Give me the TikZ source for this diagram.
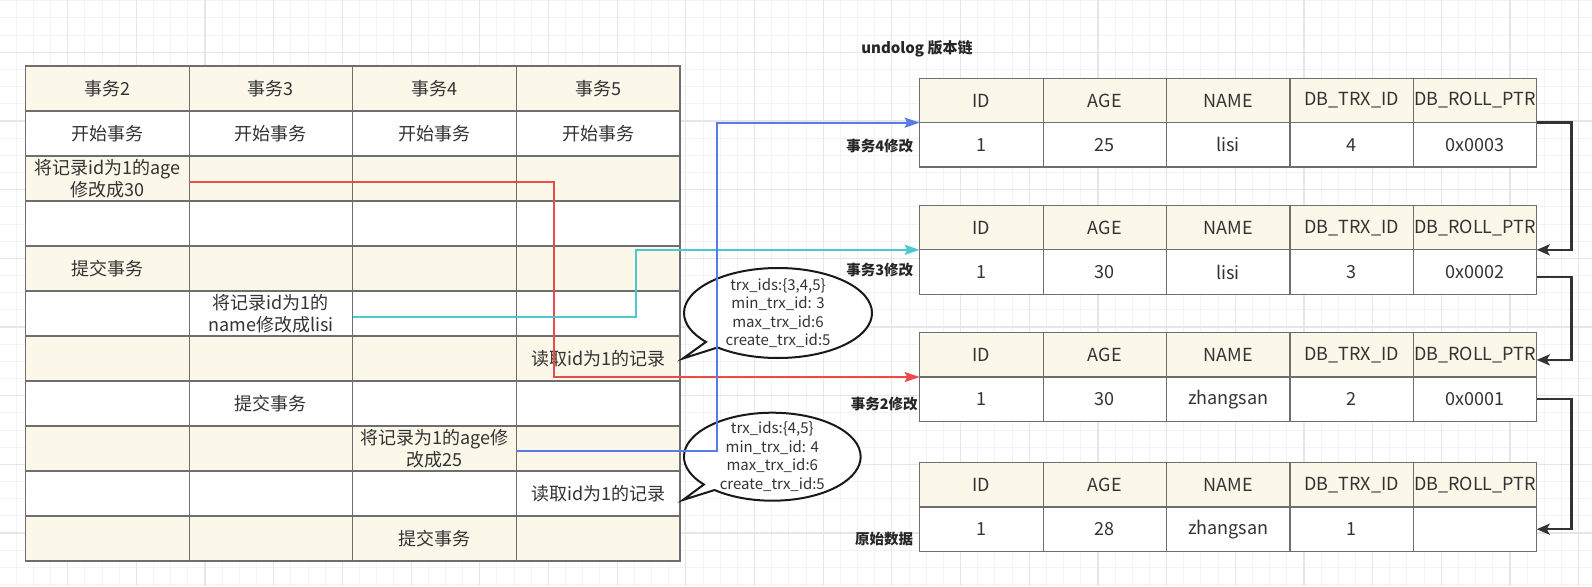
\documentclass[tikz,border=0pt]{standalone}
\usepackage{fontspec}
\setmainfont{Noto Sans CJK SC}
\usepackage{tikz}
\usetikzlibrary{arrows.meta}
\usetikzlibrary{positioning}
\usetikzlibrary{shapes.callouts}
\definecolor{cream}{RGB}{251,248,234}
\definecolor{bordergray}{RGB}{110,110,110}
\definecolor{txt}{RGB}{51,51,51}
\definecolor{redline}{RGB}{234,76,76}
\definecolor{cyanline}{RGB}{76,201,206}
\definecolor{blueline}{RGB}{88,122,234}
\definecolor{darkline}{RGB}{51,51,51}
\definecolor{gridminor}{RGB}{243,243,243}
\definecolor{gridmajor}{RGB}{230,230,230}
\begin{document}
\begin{tikzpicture}[x=1pt,y=-1pt,node distance=163.6pt,
  every node/.style={inner sep=0pt,outer sep=0pt,text=txt},
  cell/.style={draw=bordergray,line width=1.2pt,fill=white,minimum width=163.6pt,minimum height=45pt,align=center,font=\fontsize{18}{21.7}\selectfont},
  hl/.style={cell,fill=cream},
  rcell/.style={cell,minimum width=123.4pt,minimum height=44.3pt},
  rhl/.style={rcell,fill=cream},
  lbl/.style={font=\bfseries\fontsize{14.5}{17}\selectfont,text=black!85,inner xsep=6.5pt},
  bubble/.style={ellipse callout,draw=black!90,line width=2pt,fill=white,inner ysep=-12pt,callout pointer arc=10,align=center,font=\fontsize{15}{18.5}\selectfont},
  link/.style={line width=2pt,-{Stealth[length=15pt,width=10pt,inset=2.5pt]}},
  back/.style={line width=2.5pt,draw=darkline,-{Stealth[length=13pt,width=11pt,inset=3pt]}}]
\useasboundingbox (0,0) rectangle (1592,586);
% background grid
\fill[white] (0,0) rectangle (1592,586);
\foreach \k in {0,...,92} \draw[gridminor,line width=1pt] ({16.2+17.17*\k},0) -- ++(0,586);
\foreach \k in {0,...,34} \draw[gridminor,line width=1pt] (0,{0.8+17.17*\k}) -- ++(1592,0);
\foreach \k in {0,...,22} \draw[gridmajor,line width=1.2pt] ({67.71+68.68*\k},0) -- ++(0,586);
\foreach \k in {0,...,7} \draw[gridmajor,line width=1.2pt] (0,{52.31+68.68*\k}) -- ++(1592,0);
% transactions
\node[hl] (c11) at (107.3,88.5) {事务2}; \node[hl,right of=c11] (c12) {事务3}; \node[hl,right of=c12] (c13) {事务4}; \node[hl,right of=c13] (c14) {事务5};
\node[cell] (c21) at (107.3,133.5) {开始事务}; \node[cell,right of=c21] (c22) {开始事务}; \node[cell,right of=c22] (c23) {开始事务}; \node[cell,right of=c23] (c24) {开始事务};
\node[hl] (c31) at (107.3,178.5) {将记录id为1的age\\修改成30}; \node[hl,right of=c31] (c32) {}; \node[hl,right of=c32] (c33) {}; \node[hl,right of=c33] (c34) {};
\node[cell] (c41) at (107.3,223.5) {}; \node[cell,right of=c41] (c42) {}; \node[cell,right of=c42] (c43) {}; \node[cell,right of=c43] (c44) {};
\node[hl] (c51) at (107.3,268.5) {提交事务}; \node[hl,right of=c51] (c52) {}; \node[hl,right of=c52] (c53) {}; \node[hl,right of=c53] (c54) {};
\node[cell] (c61) at (107.3,313.5) {}; \node[cell,right of=c61] (c62) {将记录id为1的\\name修改成lisi}; \node[cell,right of=c62] (c63) {}; \node[cell,right of=c63] (c64) {};
\node[hl] (c71) at (107.3,358.5) {}; \node[hl,right of=c71] (c72) {}; \node[hl,right of=c72] (c73) {}; \node[hl,right of=c73] (c74) {读取id为1的记录};
\node[cell] (c81) at (107.3,403.5) {}; \node[cell,right of=c81] (c82) {提交事务}; \node[cell,right of=c82] (c83) {}; \node[cell,right of=c83] (c84) {};
\node[hl] (c91) at (107.3,448.5) {}; \node[hl,right of=c91] (c92) {}; \node[hl,right of=c92] (c93) {将记录为1的age修\\改成25}; \node[hl,right of=c93] (c94) {};
\node[cell] (c101) at (107.3,493.5) {}; \node[cell,right of=c101] (c102) {}; \node[cell,right of=c102] (c103) {}; \node[cell,right of=c103] (c104) {读取id为1的记录};
\node[hl] (c111) at (107.3,538.5) {}; \node[hl,right of=c111] (c112) {}; \node[hl,right of=c112] (c113) {提交事务}; \node[hl,right of=c113] (c114) {};
% undolog
\node[font=\bfseries\fontsize{15}{18}\selectfont,text=black!85] (title) at (917,49) {undolog 版本链};
\begin{scope}[node distance=123.4pt]
\node[rhl] (A1) at (981.4,100.5) {ID}; \node[rhl,right of=A1] (A2) {AGE}; \node[rhl,right of=A2] (A3) {NAME}; \node[rhl,right of=A3] (A4) {DB\_TRX\_ID}; \node[rhl,right of=A4] (A5) {DB\_ROLL\_PTR};
\node[rcell,label={[lbl,yshift=-1pt]left:事务4修改}] (A6) at (981.4,144.8) {1}; \node[rcell,right of=A6] (A7) {25}; \node[rcell,right of=A7] (A8) {lisi}; \node[rcell,right of=A8] (A9) {4}; \node[rcell,right of=A9] (A10) {0x0003};
\node[rhl] (B1) at (981.4,227.7) {ID}; \node[rhl,right of=B1] (B2) {AGE}; \node[rhl,right of=B2] (B3) {NAME}; \node[rhl,right of=B3] (B4) {DB\_TRX\_ID}; \node[rhl,right of=B4] (B5) {DB\_ROLL\_PTR};
\node[rcell,label={[lbl,yshift=2pt]left:事务3修改}] (B6) at (981.4,272) {1}; \node[rcell,right of=B6] (B7) {30}; \node[rcell,right of=B7] (B8) {lisi}; \node[rcell,right of=B8] (B9) {3}; \node[rcell,right of=B9] (B10) {0x0002};
\node[rhl] (C1) at (981.4,354.9) {ID}; \node[rhl,right of=C1] (C2) {AGE}; \node[rhl,right of=C2] (C3) {NAME}; \node[rhl,right of=C3] (C4) {DB\_TRX\_ID}; \node[rhl,right of=C4] (C5) {DB\_ROLL\_PTR};
\node[rcell,label={[lbl,inner xsep=2pt,yshift=-5pt]left:事务2修改}] (C6) at (981.4,399.2) {1}; \node[rcell,right of=C6] (C7) {30}; \node[rcell,right of=C7] (C8) {zhangsan}; \node[rcell,right of=C8] (C9) {2}; \node[rcell,right of=C9] (C10) {0x0001};
\node[rhl] (D1) at (981.4,484.9) {ID}; \node[rhl,right of=D1] (D2) {AGE}; \node[rhl,right of=D2] (D3) {NAME}; \node[rhl,right of=D3] (D4) {DB\_TRX\_ID}; \node[rhl,right of=D4] (D5) {DB\_ROLL\_PTR};
\node[rcell,label={[lbl,yshift=-10pt]left:原始数据}] (D6) at (981.4,529.2) {1}; \node[rcell,right of=D6] (D7) {28}; \node[rcell,right of=D7] (D8) {zhangsan}; \node[rcell,right of=D8] (D9) {1}; \node[rcell,right of=D9] (D10) {};
\end{scope}
% read views
\node[bubble,minimum width=188pt,minimum height=90pt,callout absolute pointer={([xshift=3pt]c74.east)}] (v1) at (778,313) {trx\_ids:\{3,4,5\}\\min\_trx\_id: 3\\max\_trx\_id:6\\create\_trx\_id:5};
\node[bubble,minimum width=176.7pt,minimum height=88pt,callout absolute pointer={([xshift=3pt,yshift=-6.5pt]c104.east)}] (v2) at (772.3,456.7) {trx\_ids:\{4,5\}\\min\_trx\_id: 4\\max\_trx\_id:6\\create\_trx\_id:5};
\draw[link,redline] ([yshift=-3pt]c31.east) -- ++(365,0) |- (C1.south west);
\draw[link,cyanline] ([yshift=-3pt]c62.east) -- ++(283.7,0) |- (B1.south west);
\draw[link,blueline] ([yshift=-2pt]c93.east) -- ++(200.8,0) |- (A1.south west);
\draw[back] (A5.south east) -- ++(35,0) |- (B5.south east);
\draw[back] ([yshift=-5pt]B10.east) -- ++(35,0) |- ([yshift=-5pt]C5.east);
\draw[back] (C10.east) -- ++(35,0) |- (D10.east);
\end{tikzpicture}
\end{document}
